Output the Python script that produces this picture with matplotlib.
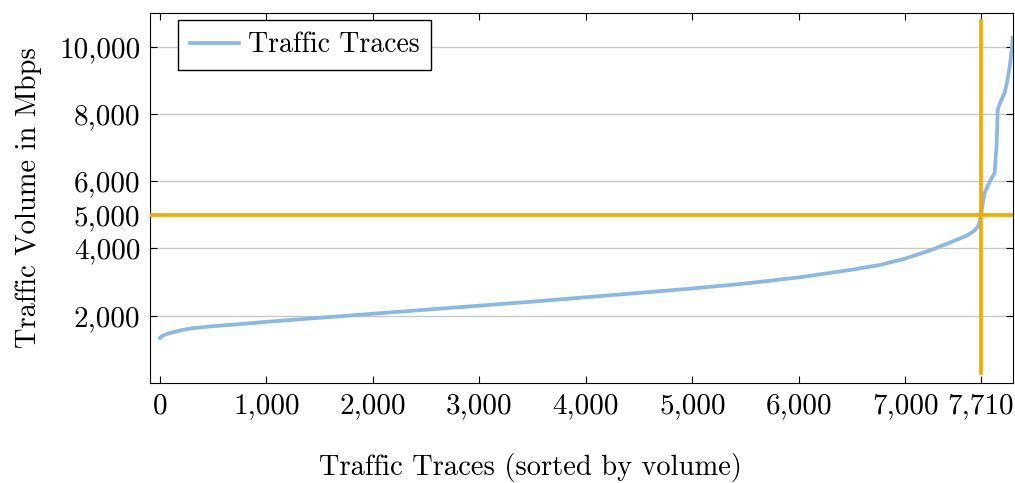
import matplotlib.pyplot as plt
import matplotlib as mpl

mpl.rcParams['font.family'] = 'serif'
mpl.rcParams['font.serif'] = ['cmr10', 'DejaVu Serif']
mpl.rcParams['axes.formatter.use_mathtext'] = True
mpl.rcParams['mathtext.fontset'] = 'cm'

# traces sorted by volume (index, Mbps)
trace_idx = [0, 20, 50, 100, 200, 300, 500, 750, 1000, 1500, 2000, 2500, 3000,
             3500, 4000, 4500, 5000, 5500, 6000, 6500, 6761, 7000, 7250, 7500,
             7577, 7650, 7681, 7700, 7710, 7746, 7793, 7840, 7859, 7869, 7900,
             7934, 7960, 7981, 8000, 8009]
volume = [1340, 1400, 1440, 1490, 1570, 1630, 1690, 1750, 1820, 1940, 2060,
          2180, 2300, 2420, 2550, 2680, 2810, 2960, 3140, 3370, 3510, 3700,
          3960, 4280, 4380, 4530, 4643, 4800, 5000, 5655, 5982, 6250, 7143,
          8125, 8400, 8631, 9000, 9405, 9900, 10268]

x_ticks = [0, 1000, 2000, 3000, 4000, 5000, 6000, 7000, 7710]
x_labels = ['0', '1,000', '2,000', '3,000', '4,000', '5,000', '6,000', '7,000', '7,710']
y_ticks = [2000, 4000, 5000, 6000, 8000, 10000]
y_labels = ['2,000', '4,000', '5,000', '6,000', '8,000', '10,000']
cut_x = 7710
cut_y = 5000

fig = plt.figure(figsize=(10.15, 4.83), dpi=100)
ax = fig.add_axes([0.1478, 0.207, 0.850, 0.766])

ax.plot(trace_idx, volume, color='#8cb8e4', lw=2.7, label='Traffic Traces', zorder=3)
ax.axhline(cut_y, color='#f5a800', lw=2.6, zorder=4)
ax.plot([cut_x, cut_x], [300, 10750], color='#f5a800', lw=2.6, zorder=4)

ax.set_xlim(-94, 8010)
ax.set_ylim(0, 11000)
ax.set_xticks(x_ticks)
ax.set_xticklabels(x_labels)
ax.set_yticks(y_ticks)
ax.set_yticklabels(y_labels)
ax.tick_params(direction='in', top=True, right=True, length=5, labelsize=21, pad=7)
ax.grid(axis='y', color='#c8c8c8', lw=1)
ax.set_axisbelow(True)

ax.set_xlabel('Traffic Traces (sorted by volume)', fontsize=20.5)
ax.xaxis.set_label_coords(0.4415, -0.19)
ax.set_ylabel('Traffic Volume in Mbps', fontsize=20.5, labelpad=12)

leg = ax.legend(loc='upper left', fontsize=20, fancybox=False, framealpha=1,
                edgecolor='black', borderpad=0.43, handlelength=1.75,
                handletextpad=0.32, borderaxespad=0, bbox_to_anchor=(0.0325, 0.981))
leg.get_frame().set_linewidth(1)

fig.savefig('out.png', dpi=100)
